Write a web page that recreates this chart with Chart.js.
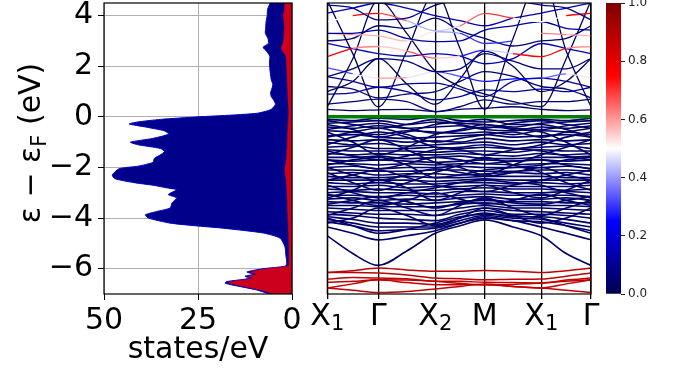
<!DOCTYPE html>
<html>
<head>
<meta charset="utf-8">
<script src="https://cdn.jsdelivr.net/npm/chart.js"></script>
<style>
  body { margin: 0; background: #fff; }
  #wrap { position: relative; width: 683px; height: 370px; }
  canvas { position: absolute; top: 0; }
</style>
</head>
<body>
<div id="wrap">
  <canvas id="dos" width="320" height="370" style="left:0"></canvas>
  <canvas id="bands" width="305" height="370" style="left:300px"></canvas>
  <canvas id="cbar" width="88" height="370" style="left:595px"></canvas>
</div>
<script>
// ---- density of states (energy in eV, states/eV) ----
const dosEnergy = [4.5, 4.25, 4.0, 3.75, 3.5, 3.3, 3.1, 2.9, 2.75, 2.6, 2.4, 2.15, 1.9, 1.65, 1.45, 1.3, 1.14, 0.95, 0.8, 0.67,
  0.5, 0.3, 0.22, 0.14, 0.07, 0.0, -0.1, -0.2, -0.28, -0.4, -0.55, -0.68, -0.85, -1.0, -1.1, -1.25, -1.37, -1.5, -1.64, -1.8,
  -1.95, -2.05, -2.3, -2.45, -2.6, -2.7, -2.8, -2.88, -3.07, -3.2, -3.4, -3.6, -3.74, -3.87, -4.0, -4.2, -4.3, -4.4, -4.59, -4.79,
  -5.12, -5.5, -5.78, -5.9, -6.0, -6.13, -6.22, -6.3, -6.38, -6.51, -6.57, -6.64, -6.84, -7.05];
const dosTotal = [5.8, 6.5, 6.6, 6.9, 7.0, 7.1, 6.4, 6.3, 7.7, 6.8, 5.9, 6.0, 5.9, 5.7, 5.5, 5.1, 5.3, 5.7, 5.5, 4.9,
  4.4, 5.5, 7.0, 9.4, 16, 25, 35, 41, 43.3, 39, 34, 32.8, 37, 43, 41, 35, 33.9, 35, 36.6, 37,
  41, 46, 47.8, 47, 42, 37, 33.5, 30.7, 32.9, 30.7, 31.9, 32.4, 36, 39, 38.2, 32.4, 26, 18.3, 7.6, 3.2,
  1.9, 1.6, 1.4, 1.8, 7.7, 12, 10.3, 12.5, 11.2, 17.4, 17.8, 16, 9.4, 5];
const dosPartial = [1.9, 2.0, 2.3, 2.1, 2.0, 2.1, 2.2, 2.4, 2.9, 2.5, 1.6, 1.5, 1.4, 1.3, 1.3, 1.2, 1.2, 1.1, 1.1, 1.1,
  1.0, 0.9, 0.9, 0.9, 0.9, 0.9, 1.0, 1.0, 1.1, 1.1, 1.1, 1.2, 1.2, 1.3, 1.3, 1.3, 1.4, 1.4, 1.5, 1.6,
  1.8, 1.9, 1.8, 1.6, 1.5, 1.5, 1.4, 1.4, 1.3, 1.3, 1.2, 1.2, 1.2, 1.1, 1.1, 1.0, 1.0, 1.0, 0.9, 0.9,
  0.8, 0.8, 0.8, 1.0, 6.6, 11, 9.3, 11.5, 10.2, 16.3, 16.8, 14.8, 8.2, 3.8];
const dosXTicks = [0, 25, 50];
const energyTicks = [-6, -4, -2, 0, 2, 4];

// ---- band structure: energies at X1, mid, G, mid, X2, mid, M, mid, X1, mid, G ----
const kPos = [0, 25.5, 51, 79.5, 108, 132.7, 157.4, 185.7, 214, 238.9, 263.7];
const kTicks = [0, 51, 108, 157.4, 214, 263.7];
const kLetters = ['X', '\u0393', 'X', 'M', 'X', '\u0393'];
const kSubs = ['1', '', '2', '', '1', ''];
const fermiLevel = 0;

const conductionBands = [
  [4.42, 4.3, 3.83, 3.9, 4.42, 4.6, 4.7, 4.6, 4.42, 4.3, 3.83],
  [3.76, 4.0, 4.09, 3.8, 3.4, 3.6, 4.09, 3.9, 3.76, 4.0, 4.09],
  [3.3, 3.3, 3.43, 3.1, 2.97, 3.0, 3.43, 3.6, 3.76, 3.5, 3.43],
  [3.3, 3.25, 3.2, 3.0, 3.37, 3.3, 2.9, 3.0, 3.3, 3.25, 3.2],
  [2.38, 2.71, 2.78, 2.6, 2.32, 2.4, 2.64, 2.5, 2.38, 2.71, 2.78],
  [2.9, 2.7, 2.5, 2.4, 2.5, 2.4, 2.1, 2.3, 2.9, 2.7, 2.5],
  [1.59, 1.9, 2.3, 2.2, 1.79, 1.9, 2.5, 2.2, 1.9, 1.9, 2.3],
  [1.95, 1.7, 1.53, 1.55, 1.79, 1.6, 1.4, 1.5, 1.53, 1.7, 1.53],
  [1.59, 1.4, 1.17, 1.3, 1.33, 1.1, 0.8, 1.4, 1.53, 1.4, 1.17],
  [0.9, 0.95, 1.17, 1.0, 0.67, 0.8, 1.07, 1.0, 1.1, 1.0, 1.17],
  [0.5, 0.6, 0.7, 0.6, 0.21, 0.4, 0.67, 0.5, 0.6, 0.6, 0.7],
  [0.3, 0.25, 0.28, 0.3, 0.21, 0.3, 0.34, 0.4, 0.3, 0.25, 0.28],
  [4.6, 2.5, 0.4, 2.6, 4.9, 2.7, 0.3, 3.1, 5.6, 2.6, 0.4],
  [0.4, 2.3, 4.6, 3.3, 1.8, 1.2, 0.9, 0.6, 0.4, 2.3, 4.6],
  [1.0, 1.4, 2.3, 1.3, 0.5, 1.5, 2.6, 2.0, 1.0, 1.4, 2.3],
  [4.1, 4.3, 4.5, 4.3, 4.0, 3.8, 3.6, 3.9, 4.1, 4.3, 4.5],
  [3.0, 3.1, 3.6, 3.5, 3.9, 3.4, 3.1, 2.8, 3.0, 3.1, 3.6],
  [1.2, 1.1, 0.75, 0.9, 1.0, 1.4, 1.79, 1.6, 1.2, 1.1, 0.75]
];
const conductionWeights = [
  0.1,
  [0.3, 0.7, 0.8, 0.55, 0.3, 0.6, 0.7, 0.7, 0.3, 0.7, 0.8],
  0.12,
  [0.65, 0.6, 0.55, 0.6, 0.45, 0.35, 0.25, 0.35, 0.65, 0.6, 0.55],
  [0.8, 0.75, 0.5, 0.6, 0.75, 0.35, 0.2, 0.7, 0.8, 0.75, 0.5],
  0.15,
  0.06,
  [0.2, 0.45, 0.6, 0.6, 0.35, 0.3, 0.25, 0.25, 0.25, 0.45, 0.6],
  0.1, 0.12, 0.06, 0.03, 0.03, 0.03, 0.03, 0.15, 0.06, 0.06
];

const valenceBands = [
  [-0.1, -0.15, -0.05, -0.1, 0.0, -0.15, -0.2, -0.15, -0.1, -0.15, -0.05],
  [-0.25, -0.2, -0.15, -0.3, -0.2, -0.25, -0.3, -0.4, -0.25, -0.2, -0.15],
  [-0.4, -0.45, -0.35, -0.45, -0.4, -0.35, -0.5, -0.55, -0.4, -0.45, -0.35],
  [-0.55, -0.6, -0.7, -0.55, -0.6, -0.65, -0.6, -0.7, -0.55, -0.6, -0.7],
  [-0.75, -0.7, -0.8, -0.85, -0.8, -0.75, -0.7, -0.8, -0.75, -0.7, -0.8],
  [-0.9, -0.95, -0.9, -1.0, -0.95, -1.0, -0.85, -0.95, -0.9, -0.95, -0.9],
  [-1.0, -1.1, -1.05, -1.15, -1.1, -1.05, -1.0, -1.1, -1.0, -1.1, -1.05],
  [-1.2, -1.15, -1.25, -1.25, -1.2, -1.25, -1.2, -1.25, -1.2, -1.15, -1.25],
  [-1.3, -1.35, -1.35, -1.35, -1.4, -1.35, -1.35, -1.4, -1.3, -1.35, -1.35],
  [-1.45, -1.5, -1.45, -1.5, -1.5, -1.45, -1.5, -1.55, -1.45, -1.5, -1.45],
  [-1.6, -1.6, -1.55, -1.65, -1.6, -1.55, -1.65, -1.65, -1.6, -1.6, -1.55],
  [-1.7, -1.75, -1.7, -1.75, -1.8, -1.75, -1.7, -1.75, -1.7, -1.75, -1.7],
  [-1.85, -1.85, -1.9, -1.85, -1.9, -1.85, -1.85, -1.9, -1.85, -1.85, -1.9],
  [-2.0, -1.95, -2.05, -2.0, -2.0, -1.95, -2.0, -2.0, -2.0, -1.95, -2.05],
  [-2.1, -2.1, -2.15, -2.15, -2.1, -2.1, -2.15, -2.15, -2.1, -2.1, -2.15],
  [-2.25, -2.2, -2.3, -2.25, -2.25, -2.3, -2.25, -2.2, -2.25, -2.2, -2.3],
  [-2.35, -2.4, -2.4, -2.35, -2.4, -2.4, -2.35, -2.35, -2.35, -2.4, -2.4],
  [-2.5, -2.5, -2.5, -2.5, -2.55, -2.5, -2.45, -2.5, -2.5, -2.5, -2.5],
  [-2.6, -2.65, -2.6, -2.65, -2.65, -2.6, -2.6, -2.65, -2.6, -2.65, -2.6],
  [-2.75, -2.75, -2.7, -2.8, -2.75, -2.75, -2.7, -2.75, -2.75, -2.75, -2.7],
  [-2.85, -2.9, -2.85, -2.9, -2.9, -2.85, -2.8, -2.85, -2.85, -2.9, -2.85],
  [-3.0, -2.95, -3.0, -3.0, -3.05, -2.95, -2.95, -3.0, -3.0, -2.95, -3.0],
  [-3.1, -3.1, -3.15, -3.1, -3.15, -3.1, -3.05, -3.1, -3.1, -3.1, -3.15],
  [-3.25, -3.2, -3.3, -3.25, -3.3, -3.2, -3.15, -3.25, -3.25, -3.2, -3.3],
  [-3.35, -3.4, -3.4, -3.45, -3.4, -3.35, -3.3, -3.35, -3.35, -3.4, -3.4],
  [-3.5, -3.5, -3.55, -3.55, -3.55, -3.45, -3.4, -3.5, -3.5, -3.5, -3.55],
  [-3.6, -3.65, -3.7, -3.7, -3.7, -3.6, -3.5, -3.6, -3.6, -3.65, -3.7],
  [-3.75, -3.8, -3.85, -3.85, -3.9, -3.75, -3.6, -3.7, -3.75, -3.8, -3.85],
  [-3.85, -3.9, -4.0, -4.05, -4.1, -3.85, -3.7, -3.85, -3.85, -3.9, -4.0],
  [-3.95, -4.05, -4.2, -4.2, -4.25, -4.0, -3.8, -3.95, -3.95, -4.05, -4.2],
  [-4.05, -4.2, -4.35, -4.35, -4.35, -4.1, -3.9, -4.0, -4.05, -4.2, -4.35],
  [-4.15, -4.3, -4.5, -4.45, -4.4, -4.2, -4.0, -4.1, -4.15, -4.3, -4.5],
  [-0.6, -1.0, -1.5, -1.2, -0.7, -0.5, -0.3, -0.5, -0.6, -1.0, -1.5],
  [-1.5, -1.2, -0.9, -1.3, -1.8, -2.0, -2.3, -1.9, -1.5, -1.2, -0.9],
  [-2.2, -2.6, -2.9, -2.6, -2.2, -1.9, -1.6, -1.9, -2.2, -2.6, -2.9],
  [-3.2, -2.9, -2.5, -2.8, -3.3, -3.0, -2.7, -3.0, -3.2, -2.9, -2.5],
  [-3.9, -3.6, -3.3, -3.6, -3.9, -3.5, -3.2, -3.6, -3.9, -3.6, -3.3],
  [-0.3, -0.5, -0.8, -0.6, -0.3, -0.2, -0.1, -0.3, -0.3, -0.5, -0.8],
  [-1.9, -1.7, -1.6, -1.9, -2.4, -2.3, -2.1, -2.0, -1.9, -1.7, -1.6],
  [-2.7, -3.0, -3.2, -3.0, -2.8, -2.6, -2.5, -2.6, -2.7, -3.0, -3.2],
  [-4.2, -4.0, -3.6, -3.9, -4.3, -4.0, -3.6, -3.9, -4.2, -4.0, -3.6],
  [-1.1, -0.8, -0.6, -0.8, -1.2, -1.3, -1.5, -1.3, -1.1, -0.8, -0.6],
  [-0.15, -0.3, -0.45, -0.3, -0.1, -0.3, -0.45, -0.25, -0.15, -0.3, -0.45],
  [-0.8, -0.6, -0.45, -0.7, -1.0, -0.85, -0.7, -0.6, -0.8, -0.6, -0.45],
  [-1.35, -1.55, -1.7, -1.55, -1.3, -1.2, -1.1, -1.25, -1.35, -1.55, -1.7],
  [-2.0, -2.3, -2.5, -2.3, -2.05, -2.2, -2.35, -2.2, -2.0, -2.3, -2.5],
  [-2.5, -2.3, -2.1, -2.4, -2.7, -2.85, -2.95, -2.7, -2.5, -2.3, -2.1],
  [-3.05, -3.3, -3.5, -3.3, -3.0, -3.25, -3.45, -3.3, -3.05, -3.3, -3.5],
  [-3.45, -3.3, -3.15, -3.35, -3.6, -3.4, -3.25, -3.4, -3.45, -3.3, -3.15],
  [-4.0, -4.3, -4.6, -4.45, -4.2, -3.95, -3.85, -3.9, -4.0, -4.3, -4.6],
  [-0.5, -0.35, -0.25, -0.45, -0.65, -0.55, -0.4, -0.45, -0.5, -0.35, -0.25],
  [-1.7, -1.9, -2.05, -1.85, -1.6, -1.7, -1.85, -1.75, -1.7, -1.9, -2.05],
  [-4.7, -5.4, -5.87, -5.3, -4.6, -4.3, -4.07, -4.35, -4.7, -5.4, -5.87],
  [-4.35, -4.6, -4.86, -4.7, -4.5, -4.2, -3.95, -4.1, -4.35, -4.6, -4.86]
];
const valenceWeight = 0.04;

const coreBands = [
  [-6.15, -6.08, -5.97, -6.05, -6.1, -6.1, -6.07, -6.1, -6.15, -6.08, -5.97],
  [-6.15, -6.15, -6.17, -6.25, -6.37, -6.4, -6.44, -6.42, -6.41, -6.3, -6.17],
  [-6.41, -6.35, -6.37, -6.4, -6.5, -6.5, -6.54, -6.55, -6.57, -6.45, -6.37],
  [-6.54, -6.5, -6.44, -6.45, -6.5, -6.58, -6.63, -6.62, -6.57, -6.5, -6.44],
  [-6.76, -6.6, -6.44, -6.55, -6.63, -6.63, -6.63, -6.7, -6.76, -6.6, -6.44],
  [-6.76, -6.85, -6.94, -6.9, -6.8, -6.7, -6.6, -6.7, -6.76, -6.85, -6.94]
];
const coreWeight = 0.87;
const colorbarTicks = [0, 0.2, 0.4, 0.6, 0.8, 1.0];

Chart.defaults.font.family = 'DejaVu Sans';
Chart.defaults.color = '#000';

// matplotlib "seismic" colormap
function seismic(w) {
  const stops = [[0, 0, 77], [0, 0, 255], [255, 255, 255], [255, 0, 0], [128, 0, 0]];
  const t = Math.max(0, Math.min(1, w)) * 4;
  const i = Math.min(3, Math.floor(t));
  const f = t - i;
  const a = stops[i], b = stops[i + 1];
  return 'rgb(' + [0, 1, 2].map(c => Math.round(a[c] + (b[c] - a[c]) * f)).join(',') + ')';
}

function fixScale(width, height) {
  return s => {
    if (width != null) s.width = width;
    if (height != null) s.height = height;
    s.paddingTop = s.paddingBottom = s.paddingLeft = s.paddingRight = 0;
  };
}

const framePlugin = {
  id: 'frame',
  afterDraw(chart) {
    const { ctx, chartArea: a } = chart;
    ctx.save();
    ctx.strokeStyle = '#000';
    ctx.lineWidth = 1.2;
    ctx.strokeRect(a.left, a.top, a.right - a.left, a.bottom - a.top);
    ctx.restore();
  }
};

const yLabelPlugin = {
  id: 'ylabel',
  afterDraw(chart) {
    const ctx = chart.ctx;
    ctx.save();
    ctx.translate(40, 143);
    ctx.rotate(-Math.PI / 2);
    ctx.fillStyle = '#000';
    ctx.textBaseline = 'alphabetic';
    const big = '30px "DejaVu Sans"', small = '21px "DejaVu Sans"';
    const p1 = '\u03b5 \u2212 \u03b5', sub = 'F', p2 = ' (eV)';
    ctx.font = big; const w1 = ctx.measureText(p1).width, w3 = ctx.measureText(p2).width;
    ctx.font = small; const w2 = ctx.measureText(sub).width;
    let x = -(w1 + w2 + w3) / 2;
    ctx.font = big; ctx.fillText(p1, x, 0); x += w1;
    ctx.font = small; ctx.fillText(sub, x, 6); x += w2;
    ctx.font = big; ctx.fillText(p2, x, 0);
    ctx.restore();
  }
};

// k-point labels with real subscripts, drawn under the band axis ticks
const kLabelPlugin = {
  id: 'klabels',
  afterDraw(chart) {
    const { ctx, scales: { x }, chartArea: a } = chart;
    ctx.save();
    ctx.fillStyle = '#000';
    ctx.textBaseline = 'alphabetic';
    const big = '30px "DejaVu Sans"', small = '21px "DejaVu Sans"';
    kTicks.forEach((v, i) => {
      ctx.font = big; const w1 = ctx.measureText(kLetters[i]).width;
      ctx.font = small; const w2 = kSubs[i] ? ctx.measureText(kSubs[i]).width : 0;
      let px = x.getPixelForValue(v) - (w1 + w2) / 2;
      const base = a.bottom + 31;
      ctx.font = big; ctx.fillText(kLetters[i], px, base);
      if (kSubs[i]) { ctx.font = small; ctx.fillText(kSubs[i], px + w1, base + 5); }
    });
    ctx.restore();
  }
};

// ---- DOS panel ----
new Chart(document.getElementById('dos'), {
  type: 'line',
  data: {
    datasets: [
      {
        data: dosEnergy.map((e, i) => ({ x: dosPartial[i], y: e })),
        borderColor: 'rgb(204,0,28)', borderWidth: 0.5,
        backgroundColor: 'rgb(204,0,28)', fill: 'origin', pointRadius: 0, tension: 0.2
      },
      {
        data: dosEnergy.map((e, i) => ({ x: dosTotal[i], y: e })),
        borderColor: 'rgb(0,0,200)', borderWidth: 1,
        backgroundColor: 'rgb(0,0,139)', fill: 'origin', pointRadius: 0, tension: 0.2
      }
    ]
  },
  options: {
    indexAxis: 'y',
    responsive: false, animation: false, devicePixelRatio: 1,
    layout: { padding: { top: 3, right: 28, left: 0, bottom: 0 } },
    plugins: { legend: { display: false }, tooltip: { enabled: false } },
    scales: {
      x: {
        type: 'linear', reverse: true, min: 0, max: 50, z: 1,
        afterFit: fixScale(null, 76),
        afterBuildTicks: axis => { axis.ticks = dosXTicks.map(v => ({ value: v })); },
        ticks: { font: { size: 30 }, padding: 3, maxRotation: 0 },
        grid: { color: '#b0b0b0', lineWidth: 1, tickLength: 6, tickColor: '#000' },
        border: { display: false },
        title: { display: true, text: 'states/eV', font: { size: 30 }, padding: { bottom: 2 } }
      },
      y: {
        type: 'linear', min: -7, max: 4.5, z: 1,
        afterFit: fixScale(104, null),
        afterBuildTicks: axis => { axis.ticks = energyTicks.map(v => ({ value: v })); },
        ticks: { font: { size: 30 }, padding: 5, callback: v => String(v).replace('-', '\u2212') },
        grid: { color: '#b0b0b0', lineWidth: 1, tickLength: 6, tickColor: '#000' },
        border: { display: false }
      }
    }
  },
  plugins: [framePlugin, yLabelPlugin]
});

// ---- band structure panel ----
function weightAt(w, j) { return Array.isArray(w) ? w[j] : w; }
function bandDataset(band, w, width) {
  return {
    data: band.map((e, j) => ({ x: kPos[j], y: e })),
    borderColor: seismic(weightAt(w, 0)),
    borderWidth: width,
    pointRadius: 0,
    cubicInterpolationMode: 'monotone',
    segment: { borderColor: c => seismic((weightAt(w, c.p0DataIndex) + weightAt(w, c.p1DataIndex)) / 2) }
  };
}
const bandSets = [
  {
    data: [{ x: kPos[0], y: fermiLevel }, { x: kPos[kPos.length - 1], y: fermiLevel }],
    borderColor: 'rgb(0,128,0)', borderWidth: 3.5, pointRadius: 0
  }
];
conductionBands.forEach((b, i) => bandSets.push(bandDataset(b, conductionWeights[i], 1.3)));
valenceBands.forEach(b => bandSets.push(bandDataset(b, valenceWeight, 1.6)));
coreBands.forEach(b => bandSets.push(bandDataset(b, coreWeight, 1.5)));

new Chart(document.getElementById('bands'), {
  type: 'line',
  data: { datasets: bandSets },
  options: {
    responsive: false, animation: false, devicePixelRatio: 1,
    layout: { padding: { top: 3, right: 14, left: 27.3, bottom: 0 } },
    plugins: { legend: { display: false }, tooltip: { enabled: false } },
    scales: {
      x: {
        type: 'linear', min: 0, max: kPos[kPos.length - 1], z: 1,
        afterFit: fixScale(null, 76),
        afterBuildTicks: axis => { axis.ticks = kTicks.map(v => ({ value: v })); },
        ticks: { display: false },
        grid: { color: '#000', lineWidth: 1.3, tickLength: 5, tickColor: '#000' },
        border: { display: false }
      },
      y: { type: 'linear', min: -7, max: 4.5, display: false }
    }
  },
  plugins: [framePlugin, kLabelPlugin]
});

// ---- colorbar ----
new Chart(document.getElementById('cbar'), {
  type: 'bar',
  data: {
    labels: [''],
    datasets: [{
      data: [1],
      barPercentage: 1, categoryPercentage: 1, borderWidth: 0,
      backgroundColor: c => {
        const a = c.chart.chartArea;
        if (!a) return null;
        const g = c.chart.ctx.createLinearGradient(0, a.bottom, 0, a.top);
        [0, 0.25, 0.5, 0.75, 1].forEach(s => g.addColorStop(s, seismic(s)));
        return g;
      }
    }]
  },
  options: {
    responsive: false, animation: false, devicePixelRatio: 1,
    layout: { padding: { top: 3, right: 0, left: 11, bottom: 76 } },
    plugins: { legend: { display: false }, tooltip: { enabled: false } },
    scales: {
      x: { display: false },
      y: {
        position: 'right', min: 0, max: 1,
        afterFit: fixScale(62, null),
        afterBuildTicks: axis => { axis.ticks = colorbarTicks.map(v => ({ value: v })); },
        ticks: { font: { size: 12 }, padding: 3, color: '#222', callback: v => v.toFixed(1) },
        grid: { drawOnChartArea: false, tickLength: 4, tickColor: '#222' },
        border: { display: false }
      }
    }
  }
});
</script>
</body>
</html>
